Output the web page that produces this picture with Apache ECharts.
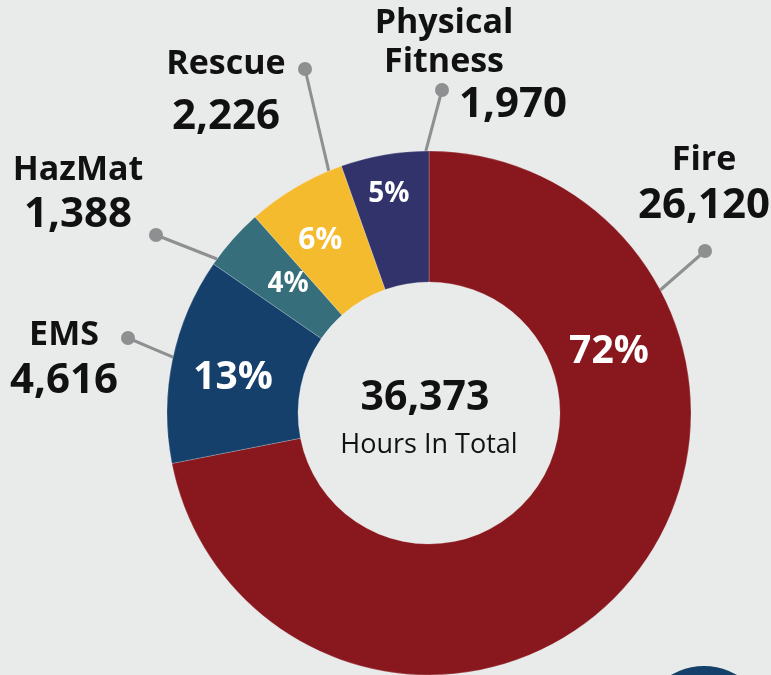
<!DOCTYPE html>
<html><head><meta charset="utf-8">
<script src="https://cdn.jsdelivr.net/npm/echarts@6/dist/echarts.min.js"></script>
<style>html,body{margin:0;padding:0;background:#e9eaea}#c{width:771px;height:675px}</style>
</head><body><div id="c"></div>
<script>
// ---- data ----
const categories = ['Fire', 'EMS', 'HazMat', 'Rescue', 'Physical Fitness'];
const hours = [26120, 4616, 1388, 2226, 1970];
const totalHours = 36373;
const totalCaption = 'Hours In Total';
const nameLines = [['Fire'], ['EMS'], ['HazMat'], ['Rescue'], ['Physical', 'Fitness']];

// ---- style / layout ----
const colors = ['#89181e', '#14406b', '#366e7c', '#f5bb2f', '#32336b'];
const CX = 429, CY = 413, R_OUT = 262, R_IN = 131;
const pctPos = [[71.3, 190], [280.1, 199], [312.5, 191], [327.8, 204], [349.6, 223]]; // compass deg, radius
const pctSize = [39, 39, 28, 30, 28];
const lineStartDeg = [62, 282.3, 306, 337.5, 359.3];
const dotPos = [[705, 251], [128, 338], [156, 235], [305, 69], [442, 90]];
const textCenterX = [704, 64, 78, 226, 444];
const nameCenterY = [160, 335, 170, 64, 23];
const nameLH = [44, 44, 43, 58, 39];
const valuePadLeft = [0, 0, 0, 0, 138];
const VALUE_LH = 48;

function polar(deg, r) {
  const a = deg * Math.PI / 180;
  return [CX + r * Math.sin(a), CY - r * Math.cos(a)];
}
const fmt = v => v.toLocaleString('en-US');
const seriesData = categories.map((c, i) => ({ name: c, value: hours[i] }));
const FONT = '"Open Sans", "Noto Sans", sans-serif';

const chart = echarts.init(document.getElementById('c'), null, { renderer: 'canvas' });
const option = {
  backgroundColor: '#e9eaea',
  animation: false,
  graphic: [
    { type: 'circle', shape: { cx: 704, cy: 731, r: 65 }, style: { fill: '#14406b' }, silent: true },
    { type: 'text', style: { x: 425, y: 398, text: fmt(totalHours), textAlign: 'center', textVerticalAlign: 'middle',
        font: 'bold 41px ' + FONT, fill: '#111111' } },
    { type: 'text', style: { x: CX, y: 445, text: totalCaption, textAlign: 'center', textVerticalAlign: 'middle',
        font: '27px ' + FONT, fill: '#111111' } }
  ],
  series: [
    {
      type: 'pie', center: [CX, CY], radius: [R_IN, R_OUT], startAngle: 90, clockwise: true,
      avoidLabelOverlap: false, silent: true,
      itemStyle: { color: p => colors[p.dataIndex], borderColor: 'rgba(255,255,255,0.35)', borderWidth: 0.6 },
      label: {
        show: true, position: 'inside', color: '#ffffff', fontFamily: FONT, fontWeight: 'bold',
        formatter: p => '{p' + p.dataIndex + '|' + Math.round(p.percent) + '%}',
        rich: Object.fromEntries(pctSize.map((s, i) => ['p' + i, { fontSize: s, fontWeight: 'bold', color: '#fff', fontFamily: FONT }]))
      },
      labelLine: { show: false },
      labelLayout: p => {
        const [x, y] = polar(pctPos[p.dataIndex][0], pctPos[p.dataIndex][1]);
        return { x, y, align: 'center', verticalAlign: 'middle' };
      },
      data: seriesData
    },
    {
      type: 'pie', center: [CX, CY], radius: [R_IN, R_OUT], startAngle: 90, silent: true,
      avoidLabelOverlap: false,
      itemStyle: { color: 'rgba(0,0,0,0)' },
      label: {
        show: true, position: 'outside', fontFamily: FONT, color: '#111111',
        formatter: p => {
          const i = p.dataIndex;
          return nameLines[i].map(t => '{n' + i + '|' + t + '}').join('\n') + '\n{v' + i + '|' + fmt(p.value) + '}';
        },
        rich: Object.fromEntries(categories.flatMap((c, i) => [
          ['n' + i, { fontSize: 34, fontWeight: 'bold', lineHeight: nameLH[i], color: '#111', fontFamily: FONT }],
          ['v' + i, { fontSize: 42, fontWeight: 'bold', lineHeight: VALUE_LH, color: '#111', fontFamily: FONT,
                      padding: [0, 0, 0, valuePadLeft[i]] }]
        ]))
      },
      labelLine: { show: false },
      labelLayout: p => {
        const i = p.dataIndex;
        return { x: textCenterX[i], y: nameCenterY[i] - nameLH[i] / 2, align: 'center', verticalAlign: 'top' };
      },
      data: seriesData
    },
    {
      type: 'pie', center: [CX, CY], radius: [R_IN, R_OUT], startAngle: 90, silent: true,
      avoidLabelOverlap: false,
      itemStyle: { color: 'rgba(0,0,0,0)' },
      label: {
        show: true, position: 'outside', formatter: ' ', fontSize: 1, lineHeight: 14,
        width: 14, height: 14, backgroundColor: '#8d8f91', borderRadius: 7, padding: 0
      },
      labelLine: { show: true, length: 10, length2: 10, lineStyle: { color: '#8d8f91', width: 3 } },
      labelLayout: p => {
        const i = p.dataIndex;
        const s = polar(lineStartDeg[i], R_OUT);
        const d = dotPos[i];
        return { x: d[0], y: d[1], align: 'center', verticalAlign: 'middle',
                 labelLinePoints: [s, [(s[0] + d[0]) / 2, (s[1] + d[1]) / 2], d] };
      },
      data: seriesData
    }
  ]
};
chart.setOption(option);
</script>
</body></html>
